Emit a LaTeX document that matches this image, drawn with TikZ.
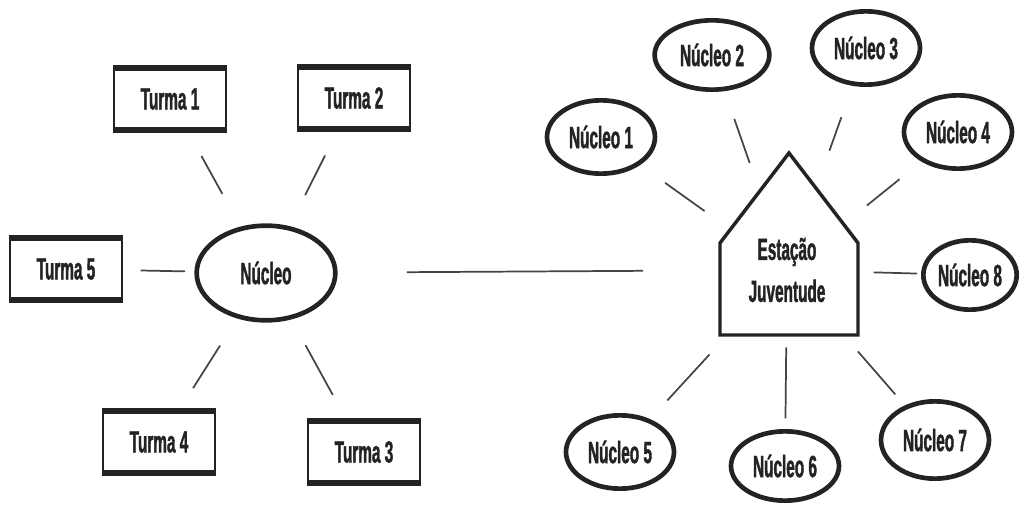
\documentclass[tikz,border=0pt]{standalone}
\usepackage{fontspec}
\setmainfont{Liberation Sans}[FakeStretch=0.5, FakeBold=1.2]
\usetikzlibrary{shapes.geometric}

\begin{document}
\begin{tikzpicture}[x=0.75pt,y=-0.75pt]

    % Colours
    \definecolor{inkcol}{RGB}{35,35,35}

    % Common styles
    \tikzset{
        lbl/.style={font=\fontsize{23}{31.5}\selectfont\bfseries, text=inkcol, align=center},
        turma/.style={lbl, draw=inkcol, rectangle, line width=2pt,
            minimum width=84pt, minimum height=45pt, inner sep=0pt},
        nucleo/.style={lbl, draw=inkcol, ellipse, line width=3.5pt, inner sep=0pt,
            minimum width=81pt, minimum height=55pt},
        link/.style={draw=inkcol!85, line width=1.3pt}
    }

    \useasboundingbox (0,0) rectangle (1025,506);

    % ==================== Nucleo with its turmas ====================
    \node[nucleo, minimum width=104pt, minimum height=71pt] (nuc) at (266,273) {Núcleo};
    \node[turma] (t1) at (170,99)  {Turma 1};
    \node[turma] (t2) at (354,98)  {Turma 2};
    \node[turma] (t3) at (364,452) {Turma 3};
    \node[turma] (t4) at (159,442) {Turma 4};
    \node[turma] (t5) at (66,269)  {Turma 5};

    % heavier top and bottom edges
    \foreach \t in {t1,t2,t3,t4,t5} {
        \draw[inkcol, line width=4.5pt] (\t.north west) -- (\t.north east);
        \draw[inkcol, line width=4.5pt] (\t.south west) -- (\t.south east);
    }

    \draw[link, shorten <=22pt, shorten >=28pt] (t1) -- (nuc);
    \draw[link, shorten <=22pt, shorten >=26pt] (t2) -- (nuc);
    \draw[link, shorten <=22pt, shorten >=22pt] (t3) -- (nuc);
    \draw[link, shorten <=20pt, shorten >=24pt] (t4) -- (nuc);
    \draw[link, shorten <=13pt, shorten >=7pt]  (t5) -- (nuc);

    % ==================== Estacao Juventude ====================
    \draw[inkcol, line width=2.6pt, line join=miter]
        (720,335) -- (720,243) -- (789,153) -- (858,243) -- (858,335) -- cycle;
    \node[lbl] (estacao) at (787,270) {Estação\\Juventude};

    \node[nucleo] (n1) at (601,137) {Núcleo 1};
    \node[nucleo, minimum width=86pt, minimum height=52pt] (n2) at (712,55) {Núcleo 2};
    \node[nucleo] (n3) at (866,48)  {Núcleo 3};
    \node[nucleo] (n4) at (958,132) {Núcleo 4};
    \node[nucleo] (n5) at (620,452) {Núcleo 5};
    \node[nucleo, minimum height=52pt] (n6) at (785,466) {Núcleo 6};
    \node[nucleo, minimum height=58pt] (n7) at (935,440) {Núcleo 7};
    \node[nucleo, minimum width=70pt, minimum height=52pt] (n8) at (970,275) {Núcleo 8};

    \draw[link, shorten <=23pt, shorten >=76pt] (n1) -- (estacao.center);
    \draw[link, shorten <=22pt, shorten >=85pt] (n2) -- (estacao.center);
    \draw[link, shorten <=25pt, shorten >=95pt] (n3) -- (estacao.center);
    \draw[link, shorten <=21pt, shorten >=77pt] (n4) -- (estacao.center);
    \draw[link, shorten <=19pt, shorten >=86pt] (n5) -- (estacao.center);
    \draw[link, shorten <=8pt,  shorten >=58pt] (n6) -- (estacao.center);
    \draw[link, shorten <=11pt, shorten >=81pt] (n7) -- (estacao.center);
    \draw[link, shorten <=3pt,  shorten >=65pt] (n8) -- (estacao.center);

    % link between the two hubs
    \draw[link, shorten <=52pt, shorten >=108pt] (nuc) -- (estacao.center);

\end{tikzpicture}
\end{document}
